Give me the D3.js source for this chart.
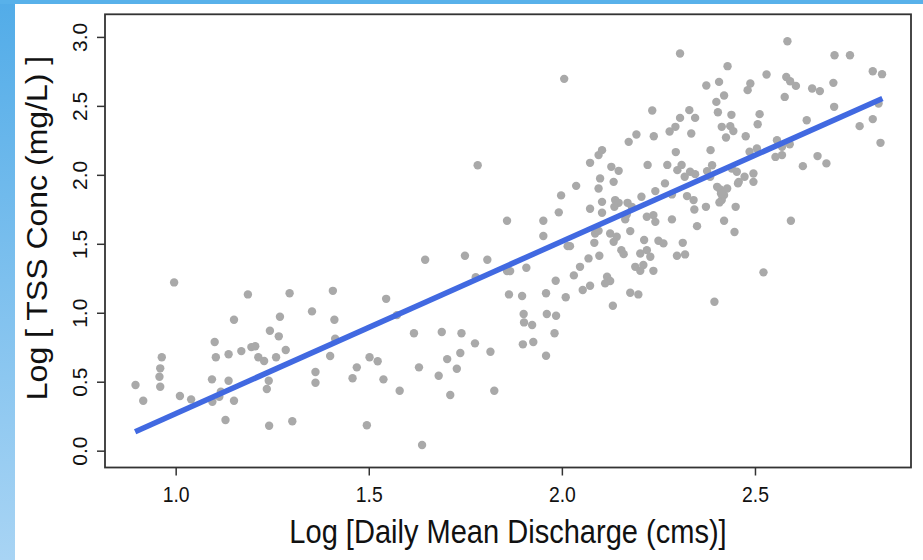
<!DOCTYPE html>
<html>
<head>
<meta charset="utf-8">
<script src="https://cdn.jsdelivr.net/npm/d3@7"></script>
<style>
  html, body { margin: 0; padding: 0; background: #fff; }
  body { width: 923px; height: 560px; overflow: hidden; position: relative; }
  .leftbar { position: absolute; left: 0; top: 0; width: 15px; height: 560px;
             background: linear-gradient(#52ace8, #a8d4f4); }
  .topbar { position: absolute; left: 0; top: 0; width: 923px; height: 4px; background: #58b1ea; }
  svg { position: absolute; left: 0; top: 0; }
  text { font-family: "Liberation Sans", Arial, sans-serif; fill: #111; }
</style>
</head>
<body>
<div class="leftbar"></div>
<div class="topbar"></div>
<div id="chart"></div>
<script>
//
// data (log10 units)
//
var discharge = [
  0.896,0.916,0.996,0.964,0.960,0.958,0.960,1.011,1.040,1.094,1.101,1.104,1.095,1.117,1.113,
  1.137,1.137,1.151,1.151,1.129,1.170,1.187,1.196,1.206,1.214,1.229,1.244,1.267,1.270,1.260,
  1.285,1.295,1.241,1.236,1.242,1.302,1.353,1.362,1.362,1.400,1.407,1.411,1.413,
  1.782,1.646,1.545,1.573,1.502,1.523,1.469,1.458,1.538,1.580,1.495,1.638,1.617,1.630,1.689,
  1.703,1.681,1.711,1.740,1.737,1.728,1.775,1.815,1.825,1.749,1.807,1.777,1.858,1.858,1.866,
  1.863,1.897,1.908,1.901,1.902,1.923,1.899,1.926,1.959,1.981,1.961,1.985,1.959,1.984,2.010,
  2.031,1.952,1.952,1.992,1.998,2.037,2.015,2.021,2.047,
  2.006,2.306,2.429,2.407,2.374,2.420,2.400,2.404,2.439,2.234,2.330,2.345,2.306,2.335,2.279,
  2.294,2.238,2.193,2.173,2.414,2.436,2.444,2.425,2.385,2.295,2.104,2.095,2.073,2.128,2.147,
  2.222,2.273,2.310,2.299,2.332,2.345,2.318,2.389,2.376,2.384,2.099,2.134,2.095,2.073,2.104,
  2.104,2.138,2.147,2.136,2.170,2.181,2.206,2.242,2.267,2.285,2.324,2.341,2.343,2.373,2.410,
  2.420,2.414,2.456,2.450,2.168,2.164,2.220,2.237,2.242,2.285,2.350,2.420,2.447,2.177,2.086,
  2.095,2.125,2.142,2.134,2.084,2.154,2.160,2.213,2.250,2.263,2.313,2.203,2.220,2.229,2.298,
  2.319,2.069,2.097,2.054,2.073,2.117,2.125,2.112,2.132,2.177,2.198,2.190,2.211,2.203,2.237,
  2.395,
  2.584,2.706,2.746,2.805,2.829,2.530,2.581,2.591,2.606,2.488,2.481,2.648,2.668,2.703,2.577,
  2.705,2.512,2.507,2.476,2.634,2.771,2.805,2.825,2.820,2.486,2.505,2.557,2.570,2.590,2.553,
  2.570,2.624,2.662,2.685,2.440,2.453,2.458,2.473,2.496,2.496,2.402,2.412,2.428,2.408,2.593,
  2.522
];
var tss = [
  0.476,0.362,1.220,0.677,0.597,0.536,0.464,0.396,0.372,0.517,0.788,0.677,0.355,0.428,0.391,
  0.699,0.507,0.949,0.362,0.222,0.722,1.133,0.751,0.757,0.677,0.650,0.870,0.829,0.971,0.677,
  0.730,1.141,0.507,0.447,0.181,0.213,1.010,0.570,0.493,0.686,1.159,0.949,0.812,
  2.070,1.384,1.101,0.983,0.677,0.648,0.604,0.525,0.517,0.435,0.184,0.041,0.851,0.604,0.860,
  0.664,0.543,0.404,0.851,0.708,0.594,0.778,0.717,0.435,1.413,1.384,1.257,1.667,1.302,1.302,
  1.133,1.121,1.326,0.991,0.930,0.911,0.771,0.788,0.688,0.851,0.991,0.978,1.141,1.232,1.112,
  1.271,1.556,1.667,1.728,1.851,1.920,1.483,1.483,1.333,
  2.696,2.880,2.788,2.674,2.648,2.575,2.529,2.454,2.435,2.467,2.469,2.413,2.413,2.300,2.314,
  2.348,2.280,2.293,2.239,2.348,2.353,2.317,2.271,2.179,2.165,2.179,2.143,2.087,2.058,2.029,
  2.072,2.072,2.072,2.034,2.022,2.005,1.986,2.070,2.027,1.986,1.974,1.949,1.901,1.754,1.804,
  1.725,1.817,1.797,1.768,1.797,1.768,1.841,1.882,1.938,1.858,1.846,1.817,1.749,1.768,1.894,
  1.853,1.817,1.938,1.768,1.713,1.677,1.696,1.708,1.659,1.677,1.628,1.667,1.585,1.592,1.575,
  1.594,1.575,1.551,1.514,1.507,1.454,1.425,1.527,1.522,1.503,1.507,1.430,1.454,1.406,1.413,
  1.423,1.394,1.413,1.165,1.196,1.261,1.230,1.213,1.051,1.145,1.133,1.333,1.346,1.304,1.304,
  1.080,
  2.969,2.867,2.867,2.751,2.730,2.728,2.710,2.679,2.645,2.662,2.614,2.626,2.607,2.667,2.565,
  2.493,2.440,2.367,2.280,2.396,2.353,2.404,2.232,2.517,2.167,2.191,2.251,2.203,2.222,2.130,
  2.143,2.063,2.136,2.083,2.046,2.022,1.949,1.986,2.010,1.949,1.913,1.865,1.901,1.800,1.667,
  1.293
];

// fitted line end points
var fitX = [0.895, 2.83];
var fitY = [0.138, 2.554];

var xTicks = [1.0, 1.5, 2.0, 2.5];
var yTicks = [0.0, 0.5, 1.0, 1.5, 2.0, 2.5, 3.0];

var xTitle = "Log [Daily Mean Discharge (cms)]";
var yTitle = "Log [ TSS Conc (mg/L) ]";

//
// layout
//
var width = 923, height = 560;
var box = { left: 105, top: 14.3, right: 911, bottom: 467.5 };

var x = d3.scaleLinear().domain([0.817, 2.904]).range([box.left, box.right]);
var y = d3.scaleLinear().domain([-0.122, 3.164]).range([box.bottom, box.top]);

var svg = d3.select("#chart").append("svg")
    .attr("width", width)
    .attr("height", height);

var pts = discharge.map(function(d, i) { return { x: d, y: tss[i] }; });

// points
svg.append("g")
    .selectAll("circle")
    .data(pts)
    .enter().append("circle")
    .attr("cx", function(d) { return x(d.x); })
    .attr("cy", function(d) { return y(d.y); })
    .attr("r", 4.2)
    .attr("fill", "#a9a9a9");

// regression line
var fit = fitX.map(function(d, i) { return [d, fitY[i]]; });
svg.append("path")
    .datum(fit)
    .attr("d", d3.line().x(function(d) { return x(d[0]); }).y(function(d) { return y(d[1]); }))
    .attr("stroke", "#4169e1")
    .attr("stroke-width", 5.5)
    .attr("fill", "none");

// box
svg.append("rect")
    .attr("x", box.left)
    .attr("y", box.top)
    .attr("width", box.right - box.left)
    .attr("height", box.bottom - box.top)
    .attr("fill", "none")
    .attr("stroke", "#333")
    .attr("stroke-width", 1.8);

// x axis
var xg = svg.append("g")
    .attr("transform", "translate(0," + box.bottom + ")")
    .call(d3.axisBottom(x).tickValues(xTicks).tickFormat(d3.format(".1f")).tickSize(8).tickSizeOuter(0));
xg.select(".domain").remove();
xg.selectAll(".tick line").attr("stroke", "#333").attr("stroke-width", 1.5);
xg.selectAll(".tick text")
    .attr("y", 35).attr("dy", null)
    .attr("transform", "scale(0.88,1)")
    .style("font-size", "22px")
    .style("font-family", "'Liberation Sans', Arial, sans-serif")
    .attr("fill", "#111");

// y axis
var yg = svg.append("g")
    .attr("transform", "translate(" + box.left + ",0)")
    .call(d3.axisLeft(y).tickValues(yTicks).tickFormat(d3.format(".1f")).tickSize(8).tickSizeOuter(0));
yg.select(".domain").remove();
yg.selectAll(".tick line").attr("stroke", "#333").attr("stroke-width", 1.5);
yg.selectAll(".tick text")
    .attr("transform", "rotate(-90)")
    .attr("x", 0).attr("y", -18).attr("dy", null)
    .attr("text-anchor", "middle")
    .style("font-size", "21px")
    .style("font-family", "'Liberation Sans', Arial, sans-serif")
    .attr("fill", "#111");

// titles
svg.append("text")
    .attr("transform", "translate(" + (box.left + box.right) / 2 + ",543) scale(0.88,1)")
    .attr("text-anchor", "middle")
    .style("font-size", "33px")
    .text(xTitle);

svg.append("text")
    .attr("transform", "translate(47,228) rotate(-90) scale(1,0.9)")
    .attr("text-anchor", "middle")
    .style("font-size", "32px")
    .text(yTitle);
</script>
</body>
</html>
